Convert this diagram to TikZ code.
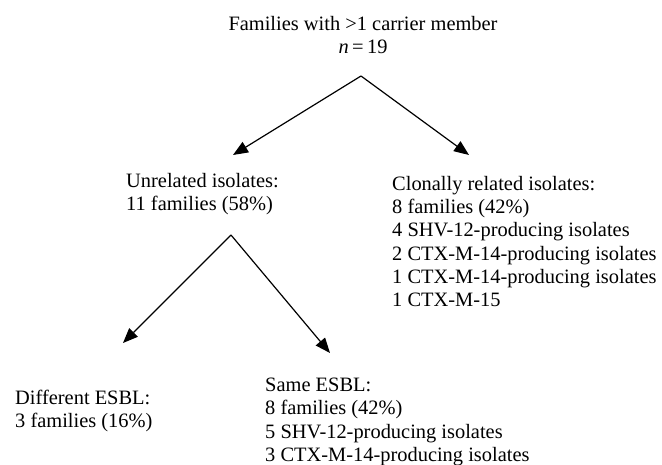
\documentclass[tikz,border=0pt]{standalone}
\usepackage{fontspec}
\setmainfont{Liberation Serif}
\usetikzlibrary{arrows.meta}

\begin{document}
\begin{tikzpicture}[x=1bp,y=-1bp,
    txt/.style={font=\fontsize{20.5}{23.3}\selectfont, inner sep=0pt},
    arr/.style={-{Triangle[length=15bp,width=12bp]}, line width=1.2bp}]
    \useasboundingbox (0,0) rectangle (662,465);
    % text blocks
    \node[txt, align=center, anchor=north] (fam) at (363,16)
        {Families with >1 carrier member\\ \textit{n}\,=\,19};
    \node[txt, align=left, anchor=north west] (unrel) at (126,173)
        {Unrelated isolates:\\ 11 families (58\%)};
    \node[txt, align=left, anchor=north west] (clon) at (392,176)
        {Clonally related isolates:\\ 8 families (42\%)\\ 4 SHV-12-producing isolates\\
         2 CTX-M-14-producing isolates\\ 1 CTX-M-14-producing isolates\\ 1 CTX-M-15};
    \node[txt, align=left, anchor=north west] (diff) at (15,390)
        {Different ESBL:\\ 3 families (16\%)};
    \node[txt, align=left, anchor=north west] (same) at (265,378)
        {Same ESBL:\\ 8 families (42\%)\\ 5 SHV-12-producing isolates\\ 3 CTX-M-14-producing isolates};
    % arrow ends
    \coordinate (A) at (361,76);
    \coordinate (B) at (233,155);
    \coordinate (C) at (469,155);
    \coordinate (D) at (231,235);
    \coordinate (E) at (123,343);
    \coordinate (F) at (330,353);
    \draw[arr] (A) -- (B);
    \draw[arr] (A) -- (C);
    \draw[arr] (D) -- (E);
    \draw[arr] (D) -- (F);
\end{tikzpicture}
\end{document}
